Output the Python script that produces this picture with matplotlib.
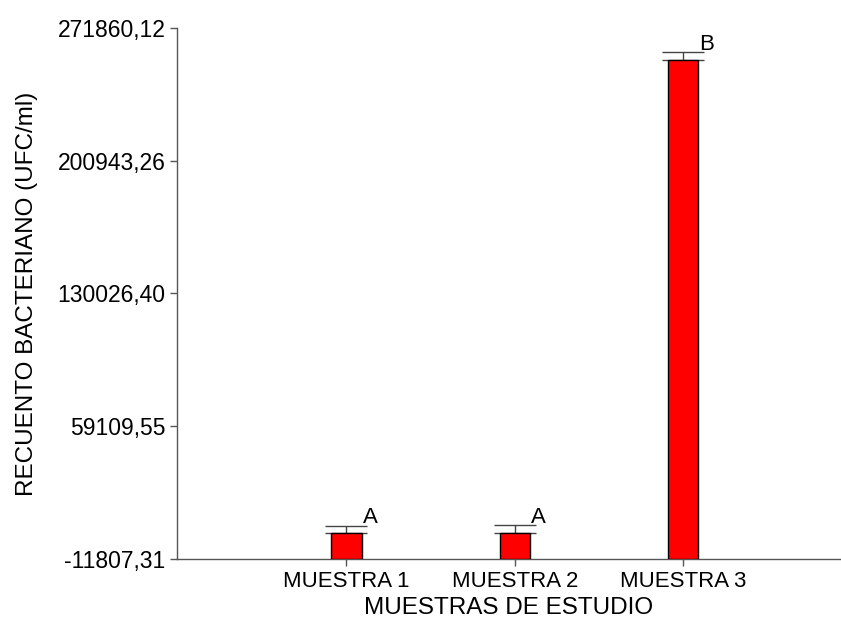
import matplotlib
matplotlib.use("Agg")
import matplotlib.pyplot as plt
import numpy as np

categories = ["MUESTRA 1", "MUESTRA 2", "MUESTRA 3"]
means = [1900.0, 2000.0, 254800.0]
errors = [4100.0, 4300.0, 4100.0]
letters = ["A", "A", "B"]
ytick_values = [-11807.31, 59109.55, 130026.40, 200943.26, 271860.12]
ytick_labels = ["-11807,31", "59109,55", "130026,40", "200943,26", "271860,12"]

plt.rcParams['font.family'] = ['Liberation Sans', 'DejaVu Sans']

fig = plt.figure(figsize=(8.41, 6.19), dpi=100)
ax = fig.add_axes([0.210, 0.097, 0.790, 0.858])

base = ytick_values[0]
x = np.arange(1, len(categories) + 1)
bw = 0.18
heights = [m - base for m in means]
ax.bar(x, heights, bottom=base, width=bw, color="#ff0000", edgecolor="black",
       linewidth=1.0, zorder=3)
ax.errorbar(x, means, yerr=[np.zeros(len(means)), errors], fmt="none",
            ecolor="#444444", elinewidth=1.0, capsize=15, capthick=1.0, zorder=2)
for xi, m, e, lab in zip(x, means, errors, letters):
    ax.annotate(lab, (xi + bw / 2, m + e), xytext=(1, -2), textcoords="offset points",
                ha="left", va="bottom", fontsize=16)

ax.set_xlim(-0.01, 3.94)
ax.set_ylim(ytick_values[0], ytick_values[-1])
ax.set_yticks(ytick_values)
ax.set_yticklabels(ytick_labels, fontsize=16.5)
ax.set_xticks(x)
ax.set_xticklabels(categories, fontsize=16)
ax.tick_params(axis="both", direction="out", length=5, color="#555555", width=1)
ax.tick_params(axis="x", pad=4)
ax.tick_params(axis="y", pad=3)
for s in ["top", "right"]:
    ax.spines[s].set_visible(False)
for s in ["left", "bottom"]:
    ax.spines[s].set_color("#555555")
    ax.spines[s].set_linewidth(1.0)
ax.set_xlabel("MUESTRAS DE ESTUDIO", fontsize=17.5, labelpad=3)
ax.set_ylabel("RECUENTO BACTERIANO (UFC/ml)", fontsize=17.5, labelpad=14)

fig.savefig("out.png", dpi=100)
